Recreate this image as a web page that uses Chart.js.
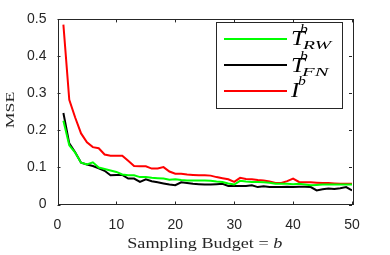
<!DOCTYPE html>
<html>
<head>
<meta charset="utf-8">
<script src="https://cdn.jsdelivr.net/npm/chart.js@4/dist/chart.umd.min.js"></script>
<style>
html,body{margin:0;padding:0;background:#fff;}
#wrap{position:relative;width:390px;height:255px;}
</style>
</head>
<body>
<div id="wrap"><canvas id="c" width="390" height="255"></canvas></div>
<script>
const budgets = Array.from({length: 50}, (_, i) => i + 1);
const seriesRW = [0.226,0.160,0.140,0.113,0.108,0.114,0.100,0.096,0.092,0.088,
  0.081,0.079,0.079,0.074,0.074,0.072,0.071,0.070,0.067,0.068,
  0.066,0.065,0.065,0.065,0.065,0.064,0.062,0.061,0.057,0.054,
  0.064,0.062,0.061,0.061,0.060,0.059,0.056,0.056,0.056,0.055,
  0.056,0.054,0.052,0.053,0.054,0.054,0.054,0.054,0.054,0.054];
const seriesFN = [0.247,0.165,0.141,0.113,0.108,0.104,0.098,0.091,0.079,0.080,
  0.080,0.070,0.070,0.061,0.068,0.063,0.060,0.057,0.054,0.052,
  0.060,0.058,0.056,0.055,0.054,0.054,0.055,0.056,0.050,0.050,
  0.050,0.050,0.052,0.047,0.049,0.047,0.047,0.047,0.048,0.047,
  0.048,0.048,0.047,0.038,0.041,0.043,0.042,0.044,0.047,0.038];
const seriesI = [0.486,0.283,0.235,0.192,0.168,0.155,0.152,0.135,0.132,0.132,
  0.132,0.118,0.104,0.103,0.103,0.097,0.097,0.101,0.089,0.083,
  0.083,0.081,0.080,0.079,0.079,0.078,0.074,0.071,0.068,0.061,
  0.072,0.069,0.068,0.066,0.065,0.062,0.058,0.058,0.063,0.070,
  0.061,0.060,0.060,0.059,0.058,0.058,0.057,0.056,0.056,0.056];
const xTicks = [0,10,20,30,40,50];
const yTicks = [0,0.1,0.2,0.3,0.4,0.5];

const AX = '#262626';
const serif = '"Liberation Serif", "DejaVu Serif", serif';

const toPts = arr => arr.map((v, i) => ({x: budgets[i], y: v}));

// draw text stretched horizontally by sx, left-aligned at x, alphabetic baseline y
function stretched(ctx, text, x, y, font, sx) {
  ctx.save();
  ctx.font = font;
  ctx.textAlign = 'left';
  ctx.textBaseline = 'alphabetic';
  ctx.translate(x, y);
  ctx.scale(sx, 1);
  ctx.fillText(text, 0, 0);
  const w = ctx.measureText(text).width * sx;
  ctx.restore();
  return w;
}

const decor = {
  id: 'decor',
  afterDraw(chart) {
    const ctx = chart.ctx, a = chart.chartArea;
    const xs = chart.scales.x, ys = chart.scales.y;
    ctx.save();
    ctx.strokeStyle = AX; ctx.lineWidth = 1;
    ctx.strokeRect(Math.round(a.left)+0.5, Math.round(a.top)+0.5, Math.round(a.right-a.left), Math.round(a.bottom-a.top));
    ctx.beginPath();
    xTicks.forEach(t => {
      const px = Math.round(xs.getPixelForValue(t)) + 0.5;
      ctx.moveTo(px, a.bottom); ctx.lineTo(px, a.bottom - 3);
      ctx.moveTo(px, a.top); ctx.lineTo(px, a.top + 3);
    });
    yTicks.forEach(t => {
      const py = Math.round(ys.getPixelForValue(t)) + 0.5;
      ctx.moveTo(a.left, py); ctx.lineTo(a.left + 3, py);
      ctx.moveTo(a.right, py); ctx.lineTo(a.right - 3, py);
    });
    ctx.stroke();

    ctx.fillStyle = AX;
    // y title "MSE", rotated, length ~37px, centered at y 110
    ctx.save();
    ctx.translate(14, 110);
    ctx.rotate(-Math.PI / 2);
    ctx.font = '13px ' + serif;
    const mw0 = ctx.measureText('MSE').width;
    const msx = 36.5 / mw0;
    stretched(ctx, 'MSE', -18.25, 0, '13px ' + serif, msx);
    ctx.restore();

    // x title, width ~155 px, centered on plot
    const t1 = 'Sampling Budget = ';
    ctx.font = '15px ' + serif;
    const w1 = ctx.measureText(t1).width;
    ctx.font = 'italic 15px ' + serif;
    const w2 = ctx.measureText('b').width;
    const xsx = 155 / (w1 + w2);
    let sx0 = (a.left + a.right) / 2 - 155 / 2;
    const ww = stretched(ctx, t1, sx0, 248, '15px ' + serif, xsx);
    stretched(ctx, 'b', sx0 + ww, 248, 'italic 15px ' + serif, xsx);

    // legend
    const L = 216, T = 22, R = 342, B = 108;
    ctx.fillStyle = '#fff';
    ctx.fillRect(L, T, R - L, B - T);
    ctx.strokeStyle = AX;
    ctx.lineWidth = 1;
    ctx.strokeRect(L + 0.5, T + 0.5, R - L, B - T);
    const entries = [
      {color: '#00ff00', y: 39, main: 'T', sub: 'RW', base: 45, supX: 300, subX: 303, subW: 28},
      {color: '#000000', y: 65, main: 'T', sub: 'FN', base: 71.5, supX: 300, subX: 302, subW: 26.5},
      {color: '#ff0000', y: 91, main: 'I', sub: '', base: 96.5, supX: 298, subX: 0, subW: 0}
    ];
    entries.forEach(e => {
      ctx.strokeStyle = e.color; ctx.lineWidth = 2;
      ctx.beginPath(); ctx.moveTo(224, e.y); ctx.lineTo(287, e.y); ctx.stroke();
      ctx.fillStyle = '#000';
      stretched(ctx, e.main, 291, e.base, 'italic 20px ' + serif, 1.25);
      stretched(ctx, 'b', e.supX, e.base - 12, 'italic 13px ' + serif, 1.2);
      if (e.sub) {
        ctx.font = 'italic 13px ' + serif;
        const sw = ctx.measureText(e.sub).width;
        stretched(ctx, e.sub, e.subX, e.base + 4, 'italic 13px ' + serif, e.subW / sw);
      }
    });
    ctx.restore();
  }
};

new Chart(document.getElementById('c'), {
  type: 'line',
  data: {
    datasets: [
      {label: 'RW', data: toPts(seriesRW), borderColor: '#00ff00', borderWidth: 2, pointRadius: 0, fill: false, tension: 0},
      {label: 'FN', data: toPts(seriesFN), borderColor: '#000000', borderWidth: 2, pointRadius: 0, fill: false, tension: 0},
      {label: 'I', data: toPts(seriesI), borderColor: '#ff0000', borderWidth: 2, pointRadius: 0, fill: false, tension: 0}
    ]
  },
  options: {
    responsive: false,
    animation: false,
    events: [],
    layout: {padding: {top: 19, right: 38, left: 0, bottom: 0}},
    plugins: {legend: {display: false}, tooltip: {enabled: false}},
    scales: {
      x: {
        type: 'linear', min: 0, max: 50,
        border: {display: false},
        grid: {display: false, drawTicks: false},
        afterBuildTicks: s => { s.ticks = xTicks.map(v => ({value: v})); },
        afterFit: s => { s.height = 50.5; },
        ticks: {color: AX, padding: 12, font: {family: '"Liberation Sans", Arial, sans-serif', size: 14}, maxRotation: 0}
      },
      y: {
        type: 'linear', min: 0, max: 0.5,
        border: {display: false},
        grid: {display: false, drawTicks: false},
        afterBuildTicks: s => { s.ticks = yTicks.map(v => ({value: v})); },
        afterFit: s => { s.width = 57.5; },
        ticks: {color: AX, padding: 11, font: {family: '"Liberation Sans", Arial, sans-serif', size: 14}}
      }
    }
  },
  plugins: [decor]
});
</script>
</body>
</html>
